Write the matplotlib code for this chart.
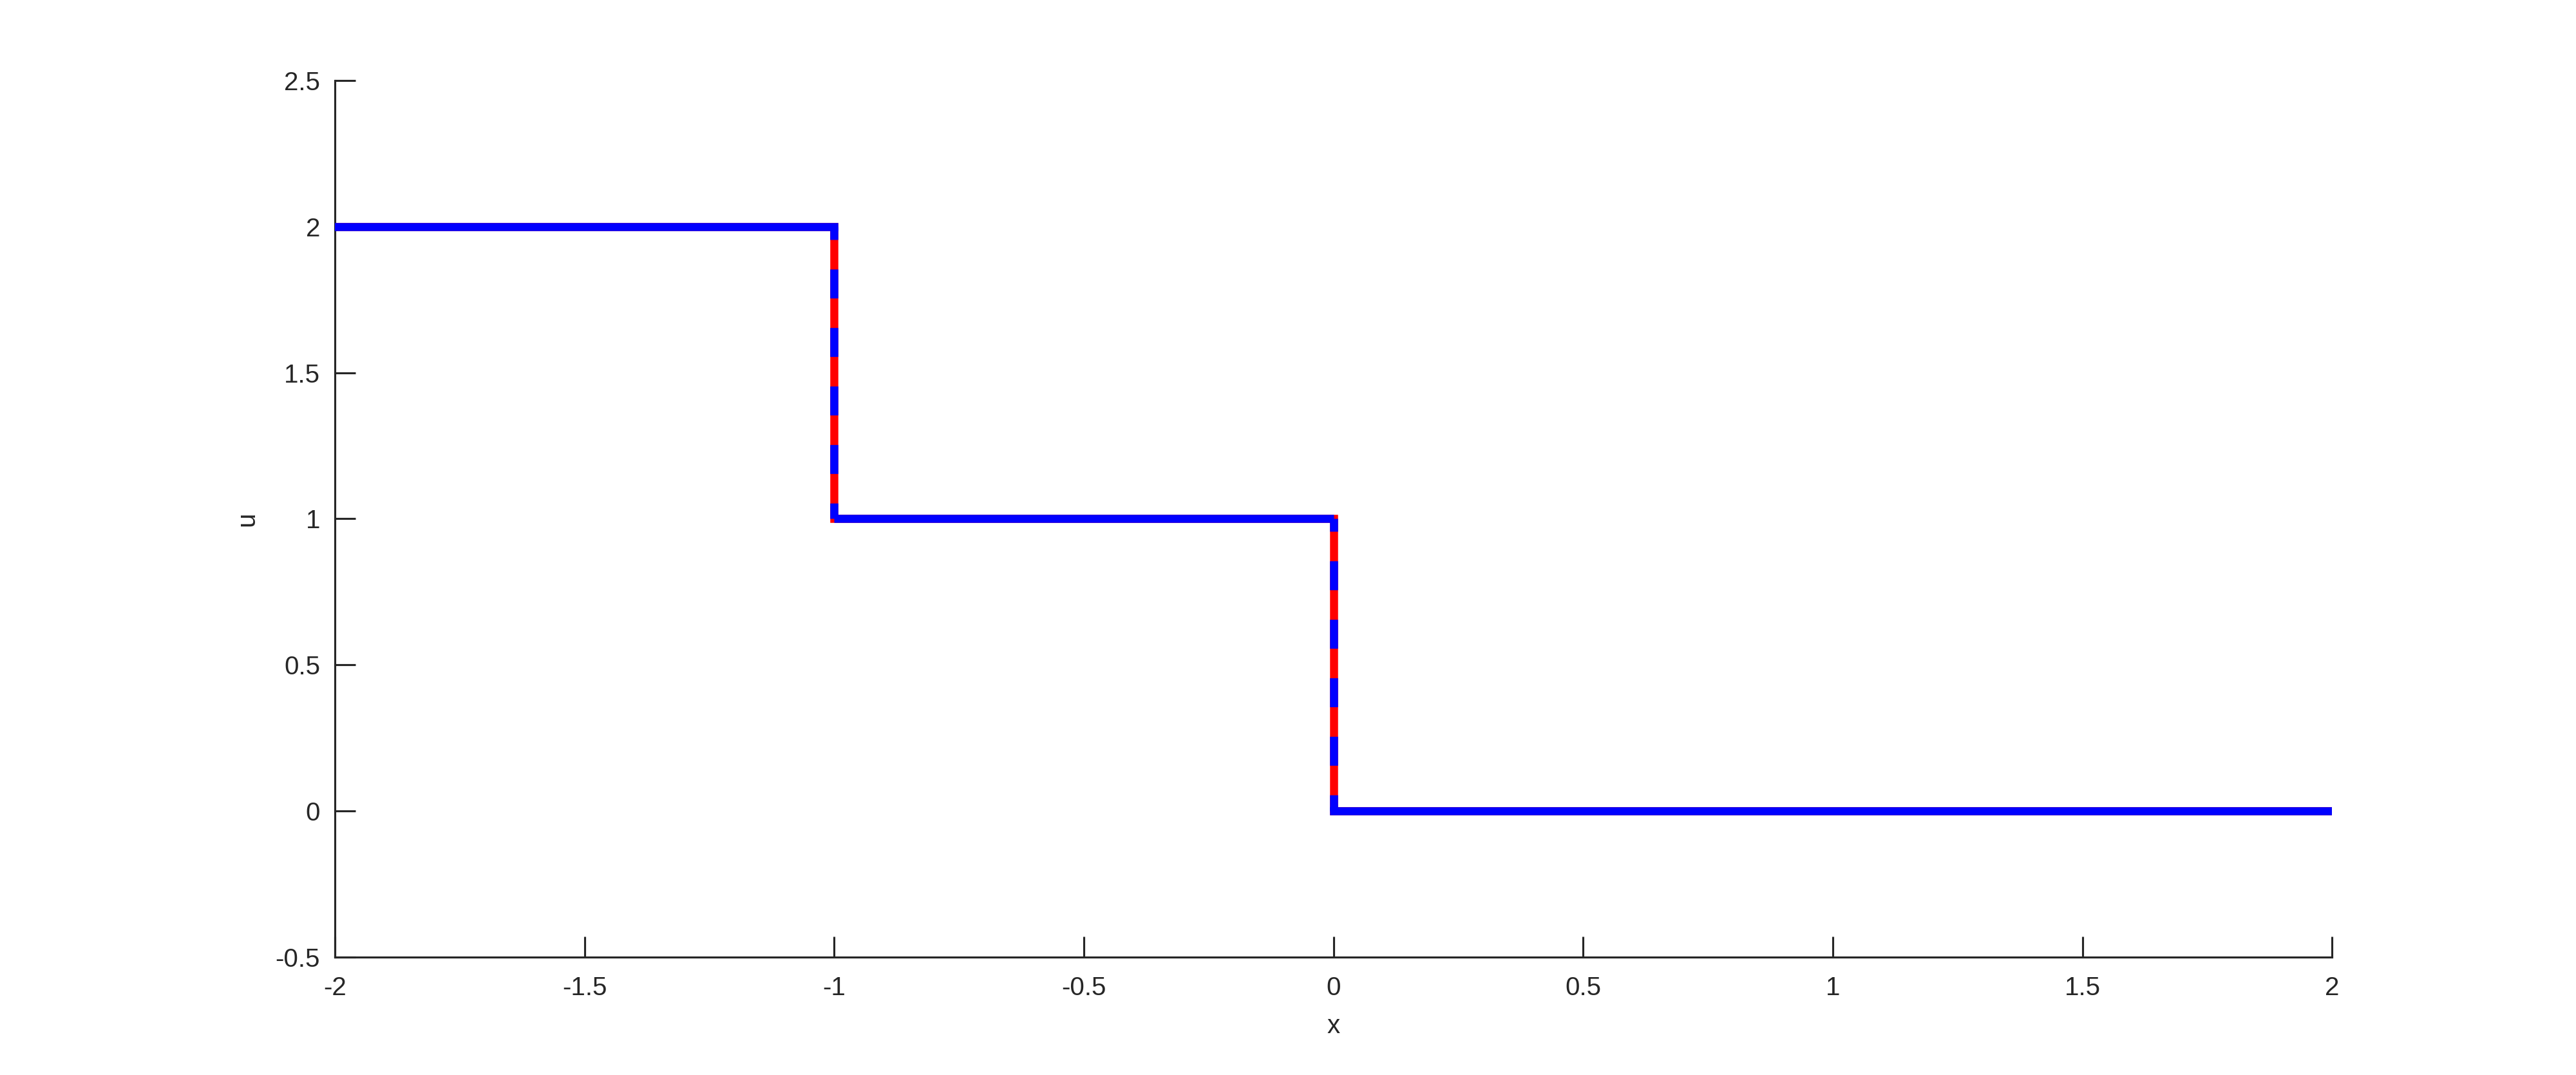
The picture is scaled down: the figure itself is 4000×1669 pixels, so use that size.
import matplotlib
matplotlib.use("Agg")
from matplotlib import pyplot as plt

# step profile u(x): exact solution (red) and computed solution (blue)
x_exact = [-2, -1, -1, 0, 0, 2]
u_exact = [2, 2, 1, 1, 0, 0]
x_num = [-2, -1, -1, 0, 0, 2]
u_num = [2, 2, 1, 1, 0, 0]

x_ticks = [-2, -1.5, -1, -0.5, 0, 0.5, 1, 1.5, 2]
x_ticklabels = ["-2", "-1.5", "-1", "-0.5", "0", "0.5", "1", "1.5", "2"]
y_ticks = [-0.5, 0, 0.5, 1, 1.5, 2, 2.5]
y_ticklabels = ["-0.5", "0", "0.5", "1", "1.5", "2", "2.5"]

AXIS_COLOR = "#262626"
LW = 3.0

plt.rcParams["font.family"] = ["Liberation Sans", "DejaVu Sans"]
plt.rcParams["font.size"] = 9.7
plt.rcParams["lines.scale_dashes"] = False

fig = plt.figure(figsize=(4000 / 300, 1669 / 300), dpi=300)
ax = fig.add_axes([0.13, 0.1097, 0.7753, 0.8154])

# exact solution underneath
ax.plot(x_exact, u_exact, color="red", linewidth=LW, solid_joinstyle="miter",
        solid_capstyle="projecting", zorder=2)

# computed solution: flat parts solid, jumps dashed (dash lengths in points)
for i in range(len(x_num) - 1):
    xs = [x_num[i], x_num[i + 1]]
    us = [u_num[i], u_num[i + 1]]
    if x_num[i] == x_num[i + 1]:
        ax.plot(xs, us, color="blue", linewidth=LW,
                linestyle=(6.0, (10.8, 11.0)), dash_capstyle="butt", zorder=3)
    else:
        cap = "projecting" if i == 0 or i == len(x_num) - 2 else "butt"
        ax.plot(xs, us, color="blue", linewidth=LW, solid_capstyle=cap, zorder=3)

ax.set_xlim(-2, 2)
ax.set_ylim(-0.5, 2.5)
ax.set_xticks(x_ticks)
ax.set_xticklabels(x_ticklabels)
ax.set_yticks(y_ticks)
ax.set_yticklabels(y_ticklabels)

ax.spines["top"].set_visible(False)
ax.spines["right"].set_visible(False)
for side in ["left", "bottom"]:
    ax.spines[side].set_color(AXIS_COLOR)
    ax.spines[side].set_linewidth(0.75)

ax.tick_params(axis="both", direction="in", length=7.7, width=0.75,
               color=AXIS_COLOR, labelcolor=AXIS_COLOR)
ax.tick_params(axis="x", pad=7)
ax.tick_params(axis="y", pad=5.5)

ax.set_xlabel("x", color=AXIS_COLOR, labelpad=5)
ax.set_ylabel("u", color=AXIS_COLOR, labelpad=6)

fig.savefig("out.png", dpi=300)
